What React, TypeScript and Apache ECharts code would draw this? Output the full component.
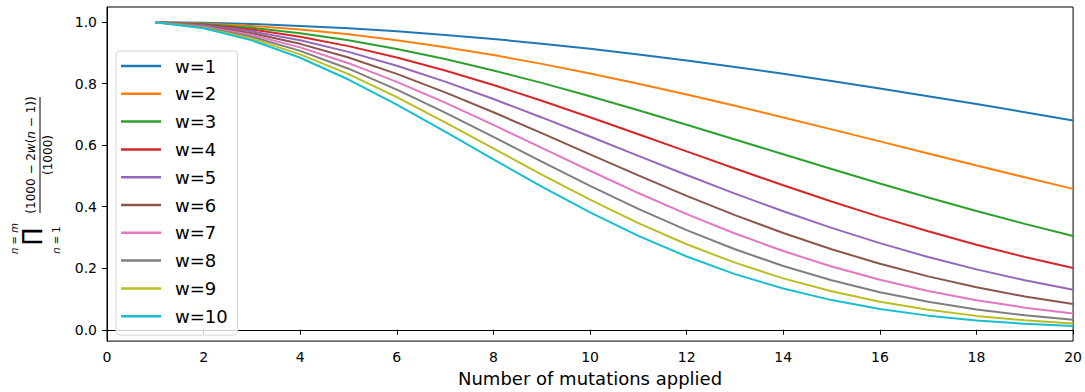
import React, { useEffect, useRef } from "react";
import * as echarts from "echarts";

const mutations = [1, 2, 3, 4, 5, 6, 7, 8, 9, 10, 11, 12, 13, 14, 15, 16, 17, 18, 19, 20];

const w1 = [1.0, 0.998, 0.994, 0.988, 0.98, 0.9703, 0.9587, 0.9453, 0.9301, 0.9134, 0.8951, 0.8754, 0.8544, 0.8322, 0.8089, 0.7846, 0.7595, 0.7337, 0.7073, 0.6804];
const w2 = [1.0, 0.996, 0.988, 0.9762, 0.9606, 0.9413, 0.9188, 0.893, 0.8645, 0.8333, 0.8, 0.7648, 0.7281, 0.6902, 0.6516, 0.6125, 0.5733, 0.5343, 0.4958, 0.4581];
const w3 = [1.0, 0.994, 0.9821, 0.9644, 0.9412, 0.913, 0.8801, 0.8432, 0.8027, 0.7594, 0.7138, 0.6667, 0.6187, 0.5704, 0.5225, 0.4755, 0.4298, 0.386, 0.3443, 0.3051];
const w4 = [1.0, 0.992, 0.9761, 0.9527, 0.9222, 0.8853, 0.8428, 0.7956, 0.7447, 0.6911, 0.6358, 0.5799, 0.5242, 0.4697, 0.4171, 0.367, 0.32, 0.2765, 0.2367, 0.2007];
const w5 = [1.0, 0.99, 0.9702, 0.9411, 0.9035, 0.8583, 0.8068, 0.7503, 0.6903, 0.6282, 0.5653, 0.5032, 0.4428, 0.3852, 0.3313, 0.2816, 0.2365, 0.1963, 0.161, 0.1304];
const w6 = [1.0, 0.988, 0.9643, 0.9296, 0.885, 0.8319, 0.772, 0.7071, 0.6392, 0.5702, 0.5018, 0.4355, 0.3728, 0.3147, 0.2618, 0.2147, 0.1735, 0.1381, 0.1082, 0.0836];
const w7 = [1.0, 0.986, 0.9584, 0.9181, 0.8667, 0.8061, 0.7383, 0.666, 0.5914, 0.5169, 0.4445, 0.3761, 0.3129, 0.2559, 0.2058, 0.1626, 0.1261, 0.0961, 0.0719, 0.0528];
const w8 = [1.0, 0.984, 0.9525, 0.9068, 0.8488, 0.7809, 0.7059, 0.6268, 0.5466, 0.4679, 0.393, 0.3239, 0.2617, 0.2072, 0.1608, 0.1222, 0.0909, 0.0662, 0.0471, 0.0328];
const w9 = [1.0, 0.982, 0.9466, 0.8955, 0.8311, 0.7563, 0.6746, 0.5896, 0.5047, 0.4229, 0.3468, 0.2781, 0.2181, 0.167, 0.1249, 0.0912, 0.0649, 0.0451, 0.0305, 0.02];
const w10 = [1.0, 0.98, 0.9408, 0.8844, 0.8136, 0.7322, 0.6444, 0.5542, 0.4655, 0.3817, 0.3054, 0.2382, 0.181, 0.134, 0.0964, 0.0675, 0.0459, 0.0303, 0.0194, 0.012];

const seriesNames = ["w=1", "w=2", "w=3", "w=4", "w=5", "w=6", "w=7", "w=8", "w=9", "w=10"];
const seriesValues = [w1, w2, w3, w4, w5, w6, w7, w8, w9, w10];
const colors = ["#1f77b4", "#ff7f0e", "#2ca02c", "#d62728", "#9467bd", "#8c564b", "#e377c2", "#7f7f7f", "#bcbd22", "#17becf"];

const xTicks = [0, 2, 4, 6, 8, 10, 12, 14, 16, 18, 20];
const yTicks = [0, 0.2, 0.4, 0.6, 0.8, 1.0];

const FONT = "DejaVu Sans";

export default function App() {
  const ref = useRef<HTMLDivElement>(null);
  useEffect(() => {
    if (!ref.current) return;
    const chart = echarts.init(ref.current, undefined, { renderer: "svg" });
    const series = seriesNames.map((name, i) => ({
      name,
      type: "line",
      data: mutations.map((m, j) => [m, seriesValues[i][j]]),
      symbol: "none",
      showSymbol: false,
      lineStyle: { width: 2, color: colors[i] },
      itemStyle: { color: colors[i] },
      emphasis: { disabled: true },
    }));
    const cx = 40;
    const cy = 176;
    const mathRich = {
      r: { fontFamily: FONT, fontSize: 12, fill: "#000" },
      i: { fontFamily: FONT, fontSize: 12, fontStyle: "italic", fill: "#000" },
    };
    const smallRich = {
      r: { fontFamily: FONT, fontSize: 10, fill: "#000" },
      i: { fontFamily: FONT, fontSize: 10, fontStyle: "italic", fill: "#000" },
    };
    chart.setOption({
      animation: false,
      backgroundColor: "#fff",
      grid: {
        left: 107,
        top: 7,
        right: 11,
        bottom: 47,
        show: true,
        borderColor: "#000",
        borderWidth: 1,
        backgroundColor: "transparent",
      },
      xAxis: {
        type: "value",
        min: xTicks[0],
        max: xTicks[xTicks.length - 1],
        interval: 2,
        name: "Number of mutations applied",
        nameLocation: "middle",
        nameGap: 26,
        nameTextStyle: { fontFamily: FONT, fontSize: 18, color: "#000" },
        axisLine: { show: true, lineStyle: { color: "#000", width: 1 } },
        axisTick: { show: true, length: 5, lineStyle: { color: "#000" } },
        axisLabel: { fontFamily: FONT, fontSize: 14, color: "#000", margin: 9 },
        splitLine: { show: false },
      },
      yAxis: {
        type: "value",
        min: -0.0369,
        max: 1.0494,
        axisLine: { show: true, lineStyle: { color: "#000", width: 1 } },
        axisTick: { show: true, length: 5, lineStyle: { color: "#000" }, customValues: yTicks },
        axisLabel: {
          fontFamily: FONT,
          fontSize: 14,
          color: "#000",
          margin: 10,
          customValues: yTicks,
          formatter: (v: number) => v.toFixed(1),
        },
        splitLine: { show: false },
      },
      legend: {
        orient: "vertical",
        left: 116,
        top: 51,
        padding: [6, 10, 10, 5],
        icon: "rect",
        itemWidth: 40,
        itemHeight: 2.5,
        itemGap: 9.8,
        data: seriesNames,
        textStyle: { fontFamily: FONT, fontSize: 18, lineHeight: 18, color: "#000", padding: [0, 0, 0, 9] },
        backgroundColor: "rgba(255,255,255,0.8)",
        borderColor: "#d5d5d5",
        borderWidth: 1,
        borderRadius: 4,
        selectedMode: false,
      },
      graphic: [
        {
          type: "group",
          x: cx,
          y: cy,
          rotation: Math.PI / 2,
          silent: true,
          children: [
            {
              type: "text",
              x: -62.5,
              y: -26,
              style: {
                text: "{i|n} {r|=} {i|m}",
                rich: smallRich,
                fontFamily: FONT,
                fontSize: 10,
                fill: "#000",
                align: "center",
                verticalAlign: "middle",
              },
            },
            {
              type: "text",
              x: -60.5,
              y: -10,
              style: { text: "∏", fontFamily: FONT, fontSize: 22, fill: "#000", align: "center", verticalAlign: "middle" },
            },
            {
              type: "text",
              x: -64,
              y: 16,
              style: {
                text: "{i|n} {r|=} {r|1}",
                rich: smallRich,
                fontFamily: FONT,
                fontSize: 10,
                fill: "#000",
                align: "center",
                verticalAlign: "middle",
              },
            },
            {
              type: "text",
              x: 21,
              y: -9,
              style: {
                text: "{r|(1000 − 2}{i|w}{r|(}{i|n}{r| − 1))}",
                rich: mathRich,
                fontFamily: FONT,
                fontSize: 12,
                fill: "#000",
                align: "center",
                verticalAlign: "middle",
              },
            },
            {
              type: "line",
              shape: { x1: -37, y1: 0, x2: 79, y2: 0 },
              style: { stroke: "#000", lineWidth: 1 },
            },
            {
              type: "text",
              x: 21,
              y: 8,
              style: { text: "(1000)", fontFamily: FONT, fontSize: 12, fill: "#000", align: "center", verticalAlign: "middle" },
            },
          ],
        },
      ],
      series,
    });
    return () => chart.dispose();
  }, []);
  return <div ref={ref} style={{ width: 1085, height: 392, position: "absolute", left: 0, top: 0 }} />;
}
